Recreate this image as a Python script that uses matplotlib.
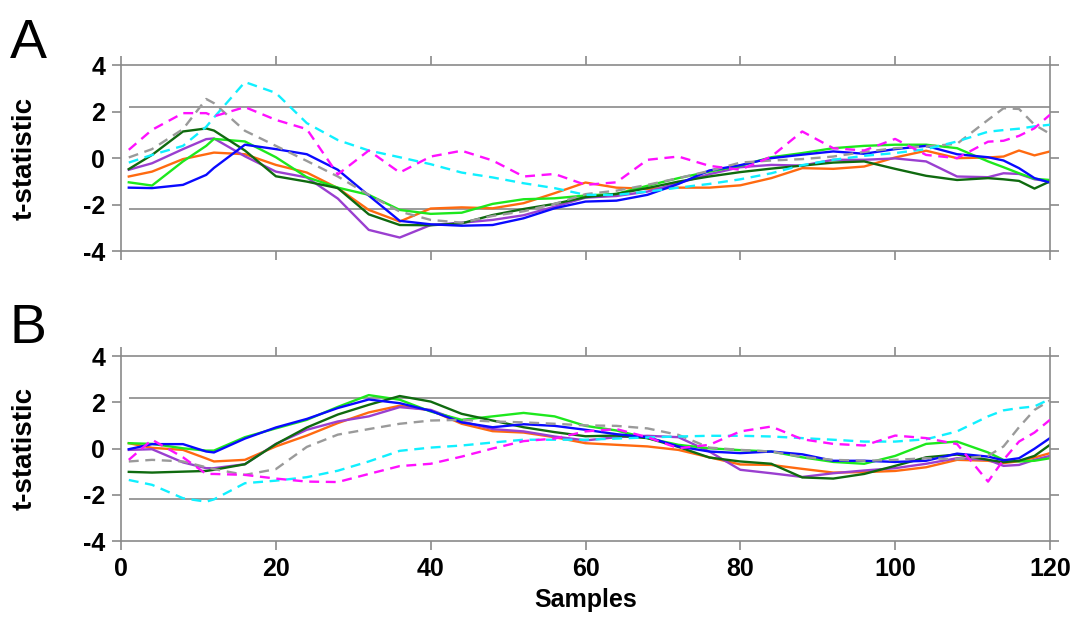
import numpy as np
import matplotlib
matplotlib.use('Agg')
import matplotlib.pyplot as plt

plt.rcParams['font.family'] = ['Liberation Sans', 'DejaVu Sans']
plt.rcParams['axes.unicode_minus'] = False

# sample index (x) shared by every trace
samples = [1, 4, 8, 11, 12, 16, 20, 24, 28, 32, 36, 40, 44, 48, 52, 56, 60, 64,
           68, 72, 76, 80, 84, 88, 92, 96, 100, 104, 108, 112, 114, 116, 118, 120]

# panel A
a_blue = [-1.27, -1.29, -1.15, -0.72, -0.42, 0.58, 0.39, 0.17, -0.5, -1.61, -2.70, -2.85,
          -2.91, -2.88, -2.59, -2.16, -1.87, -1.83, -1.58, -1.11, -0.53, -0.30, 0.0, 0.15,
          0.29, 0.19, 0.39, 0.53, 0.17, 0.04, -0.10, -0.43, -0.86, -1.05]
a_green = [-1.04, -1.18, -0.14, 0.53, 0.83, 0.72, 0.04, -0.82, -1.27, -1.58, -2.23, -2.40,
           -2.35, -1.97, -1.77, -1.73, -1.61, -1.54, -1.19, -0.86, -0.58, -0.33, 0.04, 0.22,
           0.43, 0.53, 0.58, 0.58, 0.43, -0.14, -0.39, -0.65, -0.89, -0.94]
a_dkgreen = [-0.47, 0.14, 1.15, 1.28, 1.19, 0.33, -0.78, -1.01, -1.29, -2.42, -2.88, -2.89,
             -2.81, -2.45, -2.19, -1.97, -1.68, -1.54, -1.29, -1.01, -0.79, -0.60, -0.45, -0.32,
             -0.19, -0.14, -0.46, -0.76, -0.94, -0.86, -0.91, -0.98, -1.31, -1.0]
a_orange = [-0.79, -0.58, -0.04, 0.17, 0.24, 0.17, -0.29, -0.62, -1.29, -2.23, -2.73, -2.17,
            -2.12, -2.16, -1.94, -1.51, -1.05, -1.27, -1.32, -1.27, -1.27, -1.17, -0.86, -0.43,
            -0.46, -0.36, 0.03, 0.32, 0.0, 0.03, 0.07, 0.33, 0.12, 0.29]
a_purple = [-0.50, -0.22, 0.39, 0.82, 0.85, 0.08, -0.58, -0.83, -1.74, -3.09, -3.42, -2.88,
            -2.78, -2.66, -2.46, -2.09, -1.70, -1.63, -1.44, -1.08, -0.69, -0.39, -0.29, -0.32,
            -0.07, -0.07, -0.01, -0.14, -0.79, -0.82, -0.65, -0.68, -0.91, -1.0]
a_gray = [0.03, 0.39, 1.25, 2.55, 2.37, 1.18, 0.53, -0.12, -0.79, -1.58, -2.30, -2.66,
          -2.78, -2.49, -2.29, -1.97, -1.55, -1.40, -1.15, -0.86, -0.55, -0.19, -0.10, -0.04,
          0.07, 0.27, 0.43, 0.50, 0.62, 1.65, 2.15, 2.12, 1.44, 1.05]
a_cyan = [-0.19, 0.14, 0.53, 1.35, 1.75, 3.28, 2.81, 1.51, 0.78, 0.33, 0.04, -0.26,
          -0.62, -0.83, -1.08, -1.29, -1.58, -1.58, -1.44, -1.27, -1.11, -0.91, -0.65, -0.30,
          -0.07, 0.10, 0.22, 0.39, 0.72, 1.14, 1.21, 1.27, 1.37, 1.44]
a_magenta = [0.36, 1.22, 1.94, 1.94, 1.80, 2.20, 1.65, 1.25, -0.70, 0.33, -0.62, 0.07,
             0.32, -0.10, -0.79, -0.68, -1.15, -1.04, -0.07, 0.07, -0.33, -0.50, 0.07, 1.15,
             0.43, 0.33, 0.83, 0.14, 0.0, 0.71, 0.75, 0.96, 1.29, 1.87]

# panel B
b_blue = [-0.03, 0.19, 0.19, -0.13, -0.17, 0.43, 0.91, 1.28, 1.75, 2.12, 1.96, 1.63,
          1.13, 0.92, 1.05, 0.98, 0.81, 0.62, 0.49, 0.09, -0.13, -0.20, -0.13, -0.25,
          -0.53, -0.53, -0.58, -0.53, -0.22, -0.35, -0.51, -0.42, -0.01, 0.45]
b_green = [0.23, 0.20, 0.01, -0.09, -0.09, 0.49, 0.87, 1.24, 1.80, 2.31, 2.11, 1.60,
           1.24, 1.39, 1.54, 1.39, 0.98, 0.78, 0.45, 0.16, 0.01, -0.07, -0.13, -0.38,
           -0.58, -0.66, -0.32, 0.20, 0.30, -0.17, -0.49, -0.56, -0.53, -0.42]
b_dkgreen = [-1.01, -1.04, -1.0, -0.97, -0.92, -0.68, 0.19, 0.91, 1.47, 1.89, 2.27, 2.03,
             1.50, 1.21, 0.92, 0.71, 0.53, 0.56, 0.45, 0.07, -0.39, -0.56, -0.66, -1.25,
             -1.30, -1.10, -0.75, -0.38, -0.26, -0.49, -0.59, -0.53, -0.32, 0.16]
b_orange = [0.23, 0.03, -0.06, -0.43, -0.56, -0.49, 0.09, 0.56, 1.10, 1.56, 1.85, 1.65,
            1.07, 0.75, 0.69, 0.49, 0.23, 0.16, 0.09, -0.06, -0.38, -0.69, -0.71, -0.88,
            -1.04, -1.02, -0.97, -0.81, -0.49, -0.53, -0.63, -0.55, -0.39, -0.20]
b_purple = [-0.06, -0.03, -0.60, -0.85, -0.85, -0.68, 0.20, 0.81, 1.17, 1.39, 1.79, 1.67,
            1.17, 0.84, 0.74, 0.52, 0.35, 0.49, 0.55, 0.49, -0.13, -0.92, -1.07, -1.23,
            -1.07, -0.95, -0.85, -0.66, -0.42, -0.49, -0.75, -0.71, -0.49, -0.32]
b_gray = [-0.56, -0.49, -0.56, -0.81, -0.89, -1.14, -0.89, 0.07, 0.60, 0.84, 1.07, 1.21,
          1.24, 1.17, 1.13, 1.07, 1.0, 0.98, 0.87, 0.59, 0.04, -0.06, -0.13, -0.36,
          -0.49, -0.53, -0.49, -0.42, -0.46, -0.32, 0.09, 0.92, 1.67, 2.08]
b_cyan = [-1.36, -1.57, -2.15, -2.30, -2.20, -1.50, -1.39, -1.24, -0.96, -0.56, -0.10, 0.04,
          0.13, 0.26, 0.38, 0.38, 0.38, 0.43, 0.48, 0.52, 0.55, 0.55, 0.52, 0.45,
          0.38, 0.30, 0.30, 0.40, 0.74, 1.39, 1.65, 1.75, 1.82, 2.14]
b_magenta = [-0.49, 0.38, -0.38, -1.10, -1.10, -1.14, -1.30, -1.43, -1.45, -1.10, -0.76, -0.66,
             -0.35, 0.0, 0.32, 0.43, 0.74, 0.84, 0.49, 0.01, 0.16, 0.74, 0.95, 0.40,
             0.20, 0.13, 0.56, 0.45, 0.19, -1.43, -0.49, 0.30, 0.69, 1.24]

threshold = 2.2
yticks = [-4, -2, 0, 2, 4]
xticks = [0, 20, 40, 60, 80, 100, 120]

solid = [('orange', '#ff6a10'), ('purple', '#9a3fd0'), ('green', '#1de81d'),
         ('dkgreen', '#0f6a0f'), ('blue', '#0a0aff')]
dashed = [('gray', '#9a9a9a'), ('cyan', '#10f0ff'), ('magenta', '#ff10ff')]

panels = {
    'A': dict(blue=a_blue, green=a_green, dkgreen=a_dkgreen, orange=a_orange,
              purple=a_purple, gray=a_gray, cyan=a_cyan, magenta=a_magenta),
    'B': dict(blue=b_blue, green=b_green, dkgreen=b_dkgreen, orange=b_orange,
              purple=b_purple, gray=b_gray, cyan=b_cyan, magenta=b_magenta),
}

fig = plt.figure(figsize=(10.76, 6.21), dpi=100)
axA = fig.add_axes([0.1125, 0.5958, 0.8633, 0.299])
axB = fig.add_axes([0.1125, 0.1288, 0.8633, 0.2979])

for name, ax in (('A', axA), ('B', axB)):
    data = panels[name]
    ax.hlines([threshold, -threshold], 1, 120, color='#808080', lw=1.1, zorder=1)
    for key, col in solid:
        ax.plot(samples, data[key], color=col, lw=1.7, zorder=2)
    for key, col in dashed:
        ax.plot(samples, data[key], color=col, lw=1.7, dashes=(4.2, 2.8), zorder=3)

    ax.set_xlim(0, 120)
    ax.set_ylim(-4, 4)
    for sp in ax.spines.values():
        sp.set_color('#8a8a8a')
        sp.set_linewidth(1.2)
    ax.set_xticks(xticks)
    ax.set_yticks(yticks)
    ax.tick_params(direction='out', length=6.5, width=1.2, color='#8a8a8a',
                   top=True, right=True, labelsize=18, pad=5)
    ax.set_yticklabels([str(v) for v in yticks], fontweight='bold')
    ax.set_ylabel('t-statistic', fontsize=20, fontweight='bold')
    ax.yaxis.set_label_coords(-0.09, 0.5)
    ax.set_facecolor('white')

axA.set_xticklabels([])
axB.set_xticklabels([str(v) for v in xticks], fontweight='bold')
axB.set_xlabel('Samples', fontsize=18, fontweight='bold')
axB.xaxis.set_label_coords(0.5, -0.255)

fig.text(0.009, 0.9066, 'A', fontsize=40, va='baseline')
fig.text(0.009, 0.4477, 'B', fontsize=40, va='baseline')

fig.savefig('out.png', dpi=100, facecolor='white')
